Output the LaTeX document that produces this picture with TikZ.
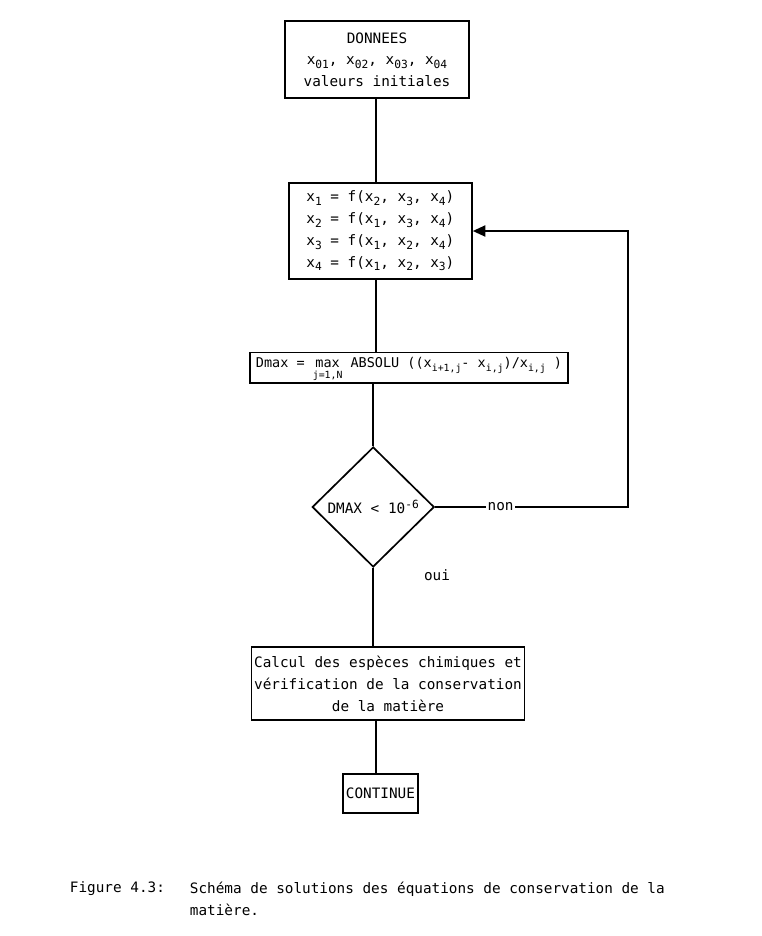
\documentclass[tikz,border=0pt]{standalone}
\usepackage{fontspec}
\setmainfont{DejaVu Sans Mono}
\usetikzlibrary{arrows.meta,shapes.geometric}
\newcommand{\low}[1]{\raisebox{-0.45ex}{\footnotesize #1}}
\newcommand{\lowsm}[1]{\raisebox{-0.45ex}{\fontsize{7}{8}\selectfont #1}}
\newcommand{\high}[1]{\raisebox{0.7ex}{\footnotesize #1}}
\newcommand{\mono}{\fontsize{10.2}{15.5}\selectfont}

\begin{document}
\begin{tikzpicture}[
    every node/.style={font=\mono},
    box/.style={draw,line width=1.2pt,inner sep=2pt,align=center},
    test/.style={draw,line width=1.2pt,diamond,aspect=1,inner sep=0pt,
      minimum width=3.05cm,minimum height=3.0cm},
    flow/.style={line width=1.2pt}]
  \useasboundingbox (0,0) rectangle (19.05,-23.4);
  \coordinate (spine) at (9.4,0);
  % boxes of the flowchart
  \node[box,minimum width=4.6cm,minimum height=1.93cm] (data) at (9.425,-1.49)
    {DONNEES\\x\low{01}, x\low{02}, x\low{03}, x\low{04}\\valeurs initiales};
  \node[box,align=left,minimum width=4.58cm,minimum height=2.4cm] (iter) at (9.51,-5.775)
    {x\low{1} = f(x\low{2}, x\low{3}, x\low{4})\\
     x\low{2} = f(x\low{1}, x\low{3}, x\low{4})\\
     x\low{3} = f(x\low{1}, x\low{2}, x\low{4})\\
     x\low{4} = f(x\low{1}, x\low{2}, x\low{3})};
  \node[box,font=\fontsize{9.6}{10.5}\selectfont,minimum width=7.95cm,minimum height=0.73cm,inner sep=0pt] (dmax) at (10.225,-9.19)
    {\rule{0pt}{11pt}Dmax = \begin{tabular}[t]{@{}c@{}}max\\[-3pt]{\fontsize{7}{8}\selectfont j=1,N}\end{tabular}
     ABSOLU ((x\lowsm{i+1,j}- x\lowsm{i,j})/x\lowsm{i,j} )};
  \node[test] (conv) at (9.33,-12.675) {DMAX < 10\high{-6}};
  \node[box,minimum width=6.5cm,minimum height=1.83cm] (calc) at (9.7,-17.09)
    {Calcul des espèces chimiques et\\vérification de la conservation\\de la matière};
  \node[box,minimum width=1.875cm,minimum height=0.975cm,inner sep=1pt] (cont) at (9.51,-19.84)
    {CONTINUE};
  % connectors
  \draw[flow] (spine |- data.south) -- (spine |- iter.north);
  \draw[flow] (spine |- iter.south) -- (spine |- dmax.north);
  \draw[flow] (dmax.south -| conv.north) -- (conv.north);
  \draw[flow] (conv.south) -- (conv.south |- calc.north);
  \draw[flow] (spine |- calc.south) -- (spine |- cont.north);
  \coordinate (turn) at (15.7,-12.675);
  \draw[flow,-{Triangle[length=9pt,width=8pt]}] (conv.east)
    -- node[pos=0.34,fill=white,inner sep=1pt] (no) {non} (turn) |- (iter.east);
  \node (yes) at (10.925,-14.375) {oui};
  % caption
  \node[anchor=west] (fig) at (1.625,-22.225) {Figure 4.3:};
  \node[anchor=west] (cap1) at (4.625,-22.225)
    {Schéma de solutions des équations de conservation de la};
  \node[anchor=west] (cap2) at (4.625,-22.75) {matière.};
\end{tikzpicture}
\end{document}
